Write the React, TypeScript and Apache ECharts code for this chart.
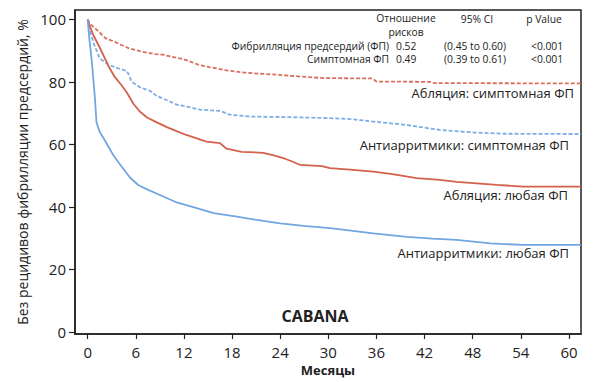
import React, { useEffect, useRef } from "react";
import * as echarts from "echarts";

const xTicks = [0, 6, 12, 18, 24, 30, 36, 42, 48, 54, 60];
const yTicks = [0, 20, 40, 60, 80, 100];

const ablationSymptomatic = [
  [0, 100], [0.3, 98.5], [0.9, 97.2], [1.5, 95.8], [2.2, 94], [3.4, 92.8], [4.2, 91.8],
  [5.1, 90.8], [6.7, 89.7], [8.4, 88.9], [9.4, 88.7], [10.5, 88], [11.9, 87.3], [12.8, 86.5],
  [13.8, 85.5], [15.2, 84.7], [17.3, 83.7], [19.4, 83.0], [21.5, 82.6], [23.6, 82.3],
  [26.5, 81.7], [29.4, 81.2], [35.5, 81.1], [36, 80.1], [42.9, 80.0], [43.2, 79.6], [61.5, 79.5],
];

const antiarrhythmicSymptomatic = [
  [0, 100], [0.3, 96], [0.8, 92], [1.5, 87.5], [2.6, 85.5], [3.8, 84.3], [4.9, 83.5],
  [5.5, 80], [6.5, 78.3], [7.8, 77.1], [8.6, 75.5], [10, 74], [11.1, 72.7], [12.5, 72],
  [14, 71.1], [16.5, 70.7], [17.7, 69.5], [20.2, 68.9], [25.2, 68.7], [29.8, 68.4],
  [32.7, 68.1], [35.6, 67.3], [39.8, 66.2], [43.9, 64.6], [48.1, 63.8], [52, 63.4], [61.5, 63.3],
];

const ablationAny = [
  [0, 100], [0.3, 97.5], [0.7, 95], [1.5, 91], [2.6, 85], [3.4, 81.5], [4.2, 79], [4.9, 76.5],
  [5.7, 73], [6.5, 70.5], [7.4, 68.6], [8.5, 67.2], [9.8, 65.6], [11, 64.3], [12.3, 63],
  [13.5, 62], [14.8, 60.9], [16.5, 60.4], [17.3, 58.6], [19.2, 57.6], [21.9, 57.3],
  [23.2, 56.5], [24.6, 55.4], [25.5, 54.5], [26.5, 53.4], [29.2, 53], [30.2, 52.4],
  [32.7, 51.9], [35.6, 51.3], [38, 50.5], [41, 49.2], [43.9, 48.6], [46, 48], [48.1, 47.6],
  [51, 47], [54.3, 46.5], [61.5, 46.5],
];

const antiarrhythmicAny = [
  [0, 100], [0.2, 94], [0.5, 87], [0.9, 75], [1.1, 67], [1.5, 64], [2.2, 61], [3.2, 56.5],
  [4.2, 53], [5.3, 49.3], [6.3, 47], [7.4, 45.6], [9, 43.8], [11.1, 41.4], [13.6, 39.6],
  [15.7, 38], [18.6, 36.9], [21.1, 35.8], [24, 34.7], [26.9, 33.9], [30.2, 33.2],
  [31.5, 32.8], [35.6, 31.5], [39.8, 30.4], [43, 29.8], [46, 29.4], [50.2, 28.3],
  [54.3, 27.8], [61.5, 27.8],
];

const curveLabels = [
  { text: "Абляция: симптомная ФП", x: 574, y: 93 },
  { text: "Антиарритмики: симптомная ФП", x: 569, y: 145 },
  { text: "Абляция: любая ФП", x: 568, y: 195 },
  { text: "Антиарритмики: любая ФП", x: 569, y: 253 },
];

const tableHeader = ["Отношение", "рисков", "95% CI", "p Value"];
const tableRows = [
  ["Фибрилляция предсердий (ФП)", "0.52", "(0.45 to 0.60)", "<0.001"],
  ["Симптомная ФП", "0.49", "(0.39 to 0.61)", "<0.001"],
];

const RED = "#d4614c";
const RED_D = "#d9705e";
const BLUE = "#72a6e0";
const BLUE_D = "#7daee3";
const FONT = "Open Sans";

export default function App() {
  const ref = useRef<HTMLDivElement>(null);
  useEffect(() => {
    if (!ref.current) return;
    document.body.style.margin = "0";
    const chart = echarts.init(ref.current, undefined, { renderer: "svg" });
    const txt = (text: string, x: number, y: number, align: string, size = 10.3, weight = "normal") => ({
      type: "text",
      x,
      y,
      style: {
        text,
        fontFamily: FONT,
        fontSize: size,
        fontWeight: weight,
        fill: "#222",
        align,
        verticalAlign: "middle",
        lineHeight: Math.round(size + 0.5),
      },
    });
    const graphics: any[] = [];
    curveLabels.forEach((l) => graphics.push(txt(l.text, l.x, l.y, "right", 13)));
    graphics.push(txt(tableHeader[0], 406, 18, "center"));
    graphics.push(txt(tableHeader[1], 406, 32, "center"));
    graphics.push(txt(tableHeader[2], 477, 19, "center"));
    graphics.push(txt(tableHeader[3], 544, 19, "center"));
    const rowY = [46, 59];
    tableRows.forEach((r, i) => {
      graphics.push(txt(r[0], 389, rowY[i], "right"));
      graphics.push(txt(r[1], 396, rowY[i], "left"));
      graphics.push(txt(r[2], 444, rowY[i], "left"));
      graphics.push(txt(r[3], 531, rowY[i], "left"));
    });
    graphics.push(txt("CABANA", 315, 316, "center", 16, "bold"));

    const mk = (data: number[][], color: string, dashed: boolean) => ({
      type: "line",
      data,
      showSymbol: false,
      symbol: "none",
      lineStyle: { color, width: 1.8, type: dashed ? [4, 2] : "solid" },
      z: 3,
    });

    chart.setOption({
      animation: false,
      grid: {
        left: 75,
        right: 19,
        top: 10,
        bottom: 48,
        show: true,
        borderColor: "#222",
        borderWidth: 1.5,
        backgroundColor: "transparent",
      },
      xAxis: {
        type: "value",
        min: -1.58,
        max: 61.5,
        name: "Месяцы",
        nameLocation: "middle",
        nameGap: 28,
        nameTextStyle: { fontFamily: FONT, fontSize: 13, fontWeight: "bold", color: "#222" },
        axisLine: { show: true, onZero: false, lineStyle: { color: "#222", width: 1.5 } },
        axisTick: { show: true, length: 5, customValues: xTicks, lineStyle: { color: "#222", width: 1.2 } },
        axisLabel: { customValues: xTicks, fontFamily: FONT, fontSize: 15, color: "#222", margin: 10 },
        splitLine: { show: false },
      },
      yAxis: {
        type: "value",
        min: -0.7,
        max: 103,
        name: "Без рецидивов фибрилляции предсердий, %",
        nameLocation: "middle",
        nameGap: 44,
        nameTextStyle: { fontFamily: FONT, fontSize: 14, color: "#222" },
        axisLine: { show: true, onZero: false, lineStyle: { color: "#222", width: 1.5 } },
        axisTick: { show: true, length: 6, customValues: yTicks, lineStyle: { color: "#222", width: 1.2 } },
        axisLabel: { customValues: yTicks, fontFamily: FONT, fontSize: 15, color: "#222", margin: 9 },
        splitLine: { show: false },
      },
      series: [
        mk(ablationSymptomatic, RED_D, true),
        mk(antiarrhythmicSymptomatic, BLUE_D, true),
        mk(ablationAny, RED, false),
        mk(antiarrhythmicAny, BLUE, false),
      ],
      graphic: graphics,
    });
    return () => chart.dispose();
  }, []);
  return <div ref={ref} style={{ width: 600, height: 382 }} />;
}
